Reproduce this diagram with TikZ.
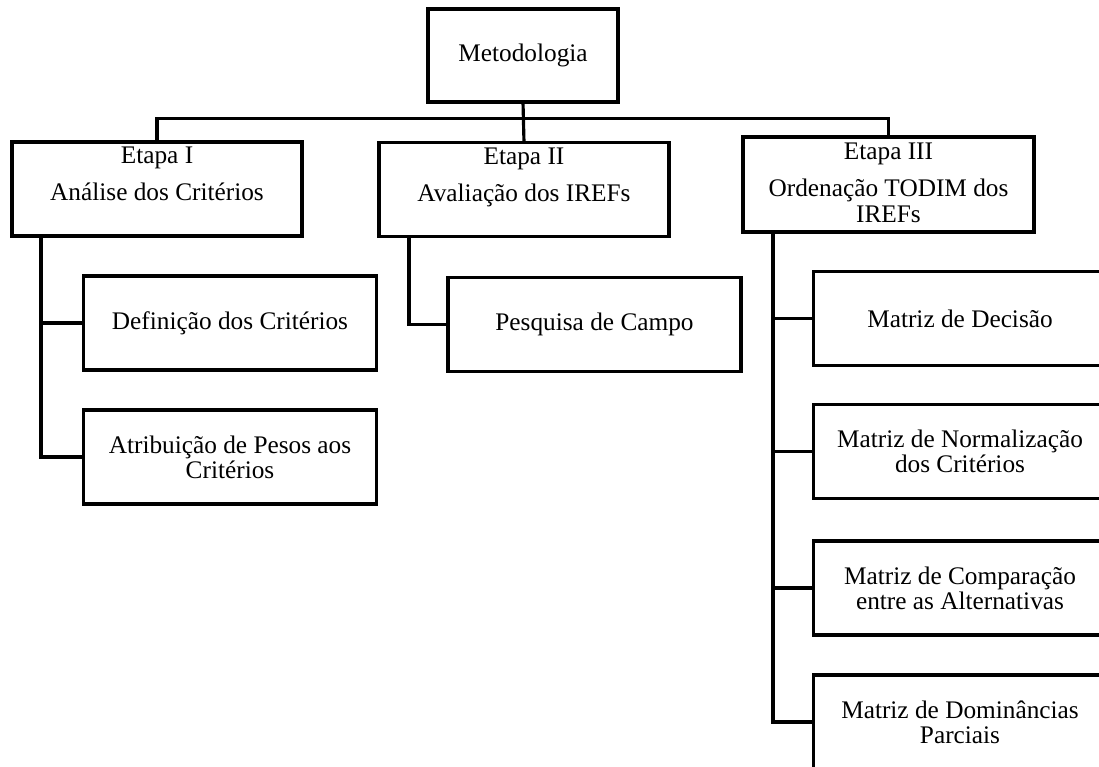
\documentclass[tikz,border=0pt]{standalone}
\usepackage{fontspec}
\setmainfont{Liberation Serif}
\usepackage{tikz}
\usetikzlibrary{calc}
\tikzstyle{caixa} = [rectangle, draw=black, line width=2.2pt, outer sep=0pt, align=center, font=\fontsize{14.4}{14.4}\selectfont]
\tikzstyle{etapa} = [caixa, minimum width=5.8cm, minimum height=1.88cm]
\tikzstyle{passo} = [caixa, minimum width=5.86cm, minimum height=1.88cm]
\tikzstyle{rotulo} = [anchor=north, align=center, inner sep=0pt, font=\fontsize{14.4}{14.4}\selectfont]
\tikzstyle{ligacao} = [draw=black, line width=1.8pt]

\begin{document}
\begin{tikzpicture}[x=0.02cm,y=-0.02cm]
  \useasboundingbox (0,0) rectangle (1099,767);
  \clip (0,0) rectangle (1099,767);

  \node[caixa, minimum width=3.8cm, minimum height=1.86cm] (met) at (523,55.5) {Metodologia};

  % etapas
  \node[etapa] (e1) at (157,189) {};
  \node[etapa] (e2) at (524,189.5) {};
  \node[etapa, minimum width=5.82cm, minimum height=1.9cm] (e3) at (888.5,184.5) {};
  \node[rotulo] (t1) at ($(e1.north)+(0,5)$) {Etapa I\\[6.6pt]Análise dos Critérios};
  \node[rotulo] (t2) at ($(e2.north)+(0,5)$) {Etapa II\\[6.6pt]Avaliação dos IREFs};
  \node[rotulo] (t3) at ($(e3.north)+(0,6)$) {Etapa III\\[6.6pt]Ordenação TODIM dos\\IREFs};

  % passos
  \node[passo] (d1) at (230,323) {Definição dos Critérios};
  \node[passo] (d2) at (230,457) {Atribuição de Pesos aos\\Critérios};
  \node[passo] (p1) at (594.5,324.5) {Pesquisa de Campo};
  \node[passo] (m1) at (960,318.5) {Matriz de Decisão};
  \node[passo] (m2) at (960,451.5) {Matriz de Normalização\\dos Critérios};
  \node[passo] (m3) at (960,588) {Matriz de Comparação\\entre as Alternativas};
  \node[passo] (m4) at (960,722) {Matriz de Dominâncias\\Parciais};

  \draw[ligacao] (met.south) -- (e2.north);
  \draw[ligacao] (e1.north) |- ($(met.south)!0.4!(e2.north)$) -| (e3.north);

  \draw[ligacao] ($(e1.south west)+(29,0)$) |- (d1.west);
  \draw[ligacao] ($(e1.south west)+(29,0)$) |- (d2.west);
  \draw[ligacao] ($(e2.south west)+(30,0)$) |- (p1.west);
  \foreach \m in {m1,m2,m3,m4}
  \draw[ligacao] ($(e3.south west)+(30,0)$) |- (\m.west);
\end{tikzpicture}
\end{document}
